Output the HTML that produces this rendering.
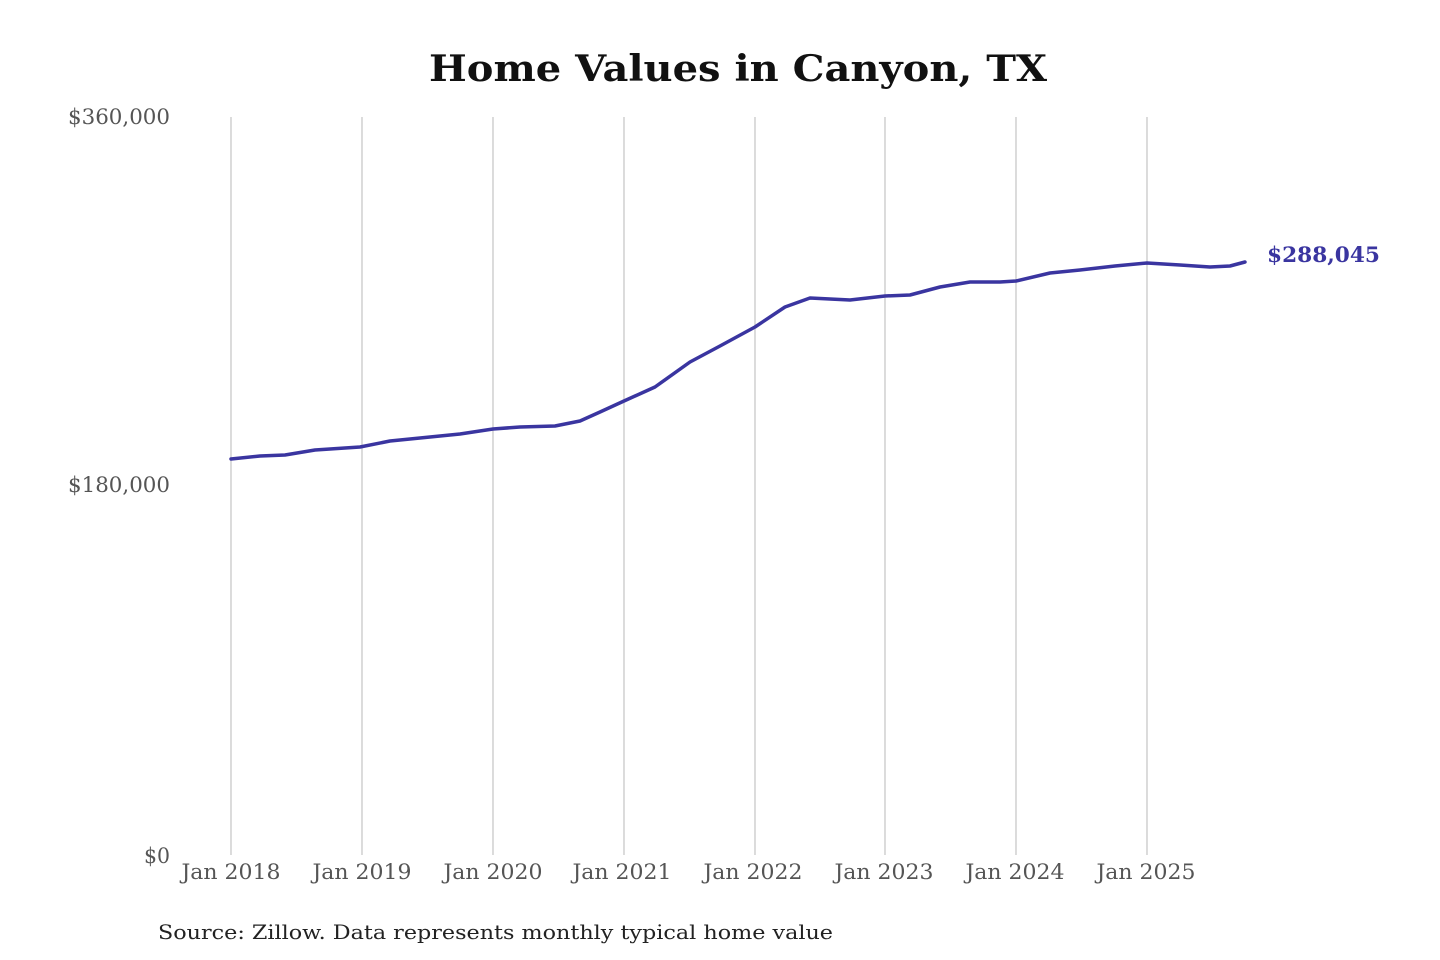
<!DOCTYPE html>
<html><head><meta charset="utf-8"><style>
html,body{margin:0;padding:0;background:#fff;width:1440px;height:960px;overflow:hidden}
text{font-family:"DejaVu Serif","Liberation Serif",serif}
</style></head><body>
<svg width="1440" height="960" xmlns="http://www.w3.org/2000/svg">
<rect width="1440" height="960" fill="#fff"/>
<text x="738" y="81" text-anchor="middle" font-size="36" font-weight="bold" fill="#111" textLength="618" lengthAdjust="spacingAndGlyphs">Home Values in Canyon, TX</text>
<g stroke="#c8c8c8" stroke-width="1.3">
<line x1="231" y1="117" x2="231" y2="855"/>
<line x1="362" y1="117" x2="362" y2="855"/>
<line x1="493" y1="117" x2="493" y2="855"/>
<line x1="624" y1="117" x2="624" y2="855"/>
<line x1="755" y1="117" x2="755" y2="855"/>
<line x1="885" y1="117" x2="885" y2="855"/>
<line x1="1016" y1="117" x2="1016" y2="855"/>
<line x1="1147" y1="117" x2="1147" y2="855"/>
</g>
<g font-size="21" fill="#555" text-anchor="end">
<text x="170" y="124" textLength="102" lengthAdjust="spacingAndGlyphs">$360,000</text>
<text x="170" y="492" textLength="102" lengthAdjust="spacingAndGlyphs">$180,000</text>
<text x="170" y="863" textLength="26" lengthAdjust="spacingAndGlyphs">$0</text>
</g>
<g font-size="21" fill="#555" text-anchor="middle">
<text x="231" y="879" textLength="99" lengthAdjust="spacingAndGlyphs">Jan 2018</text>
<text x="362" y="879" textLength="99" lengthAdjust="spacingAndGlyphs">Jan 2019</text>
<text x="493" y="879" textLength="99" lengthAdjust="spacingAndGlyphs">Jan 2020</text>
<text x="622" y="879" textLength="99" lengthAdjust="spacingAndGlyphs">Jan 2021</text>
<text x="753" y="879" textLength="99" lengthAdjust="spacingAndGlyphs">Jan 2022</text>
<text x="884" y="879" textLength="99" lengthAdjust="spacingAndGlyphs">Jan 2023</text>
<text x="1015" y="879" textLength="99" lengthAdjust="spacingAndGlyphs">Jan 2024</text>
<text x="1146" y="879" textLength="99" lengthAdjust="spacingAndGlyphs">Jan 2025</text>
</g>
<polyline fill="none" stroke="#3a35a0" stroke-width="3.5" stroke-linejoin="round" stroke-linecap="round"
points="231,459 260,456 285,455 315,450 360,447 390,441 420,438 460,434 493,429 520,427 555,426 580,421 600,412 624,401 655,387 690,362 720,346 755,327 785,307 810,298 830,299 850,300 885,296 910,295 940,287 970,282 1000,282 1016,281 1050,273 1080,270 1115,266 1147,263 1180,265 1210,267 1230,266 1245,262"/>
<text x="1267" y="262" font-size="21" font-weight="bold" fill="#3a35a0" textLength="113" lengthAdjust="spacingAndGlyphs">$288,045</text>
<text x="158" y="939" font-size="20" fill="#222" textLength="675" lengthAdjust="spacingAndGlyphs">Source: Zillow. Data represents monthly typical home value</text>
</svg>
</body></html>
